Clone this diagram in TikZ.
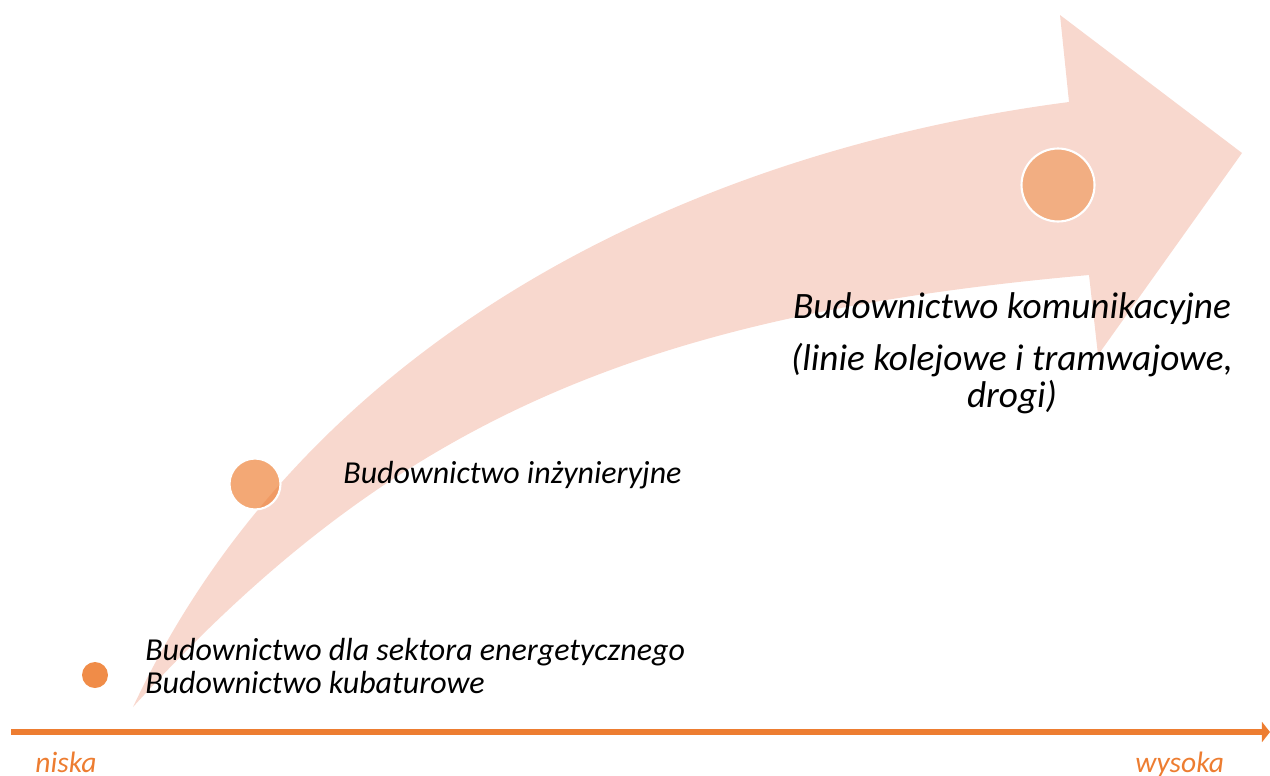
\documentclass[tikz,border=0pt]{standalone}
\usepackage{fontspec}
\setmainfont{Carlito}
\usetikzlibrary{arrows.meta,positioning}
\definecolor{arrowpink}{RGB}{248,216,206}
\definecolor{axisorange}{RGB}{237,125,49}
\definecolor{dotlow}{RGB}{240,140,72}
\definecolor{dothigh}{RGB}{242,174,130}
\begin{document}
\begin{tikzpicture}[x=0.02cm,y=-0.02cm,
  dot/.style={circle,inner sep=0pt,minimum size=#1},
  ring/.style={draw=white,line width=1.2pt},
  lbl/.style={anchor=base west,inner sep=0pt,font=\fontsize{18.2}{21}\selectfont\itshape},
  biglbl/.style={anchor=base,inner sep=0pt,font=\fontsize{21.2}{25}\selectfont\itshape},
  axislbl/.style={anchor=base west,inner sep=0pt,text=axisorange,font=\fontsize{16.8}{20}\selectfont\itshape}]
\useasboundingbox (0,0) rectangle (1270,775);
% curved arrow
\fill[arrowpink] (133,707) coordinate(tail) .. controls (310,330) and (700,150) .. (1069,102) -- (1060,15) -- (1242,153) -- (1098,355) -- (1089,275) .. controls (639,315) and (393,421) .. (tail) -- cycle;
% dots
\node[dot=0.52cm,fill=dotlow] (low) at (95,675) {};
\node[dot=1.02cm,fill=axisorange,fill opacity=0.67,ring] (mid) at (255,484) {};
\node[dot=1.46cm,fill=dothigh,ring] (high) at (1058,185) {};
% labels
\node[lbl] (energ) at (145,660) {Budownictwo dla sektora energetycznego};
\node[lbl,below=18.8pt of energ.base west,anchor=base west] (kubat) {Budownictwo kubaturowe};
\node[lbl] (inz) at (343,483) {Budownictwo inżynieryjne};
\node[biglbl] (komun) at (1012,318) {Budownictwo komunikacyjne};
\node[biglbl,below=29.6pt of komun.base,anchor=base] (linie) {(linie kolejowe i tramwajowe,};
\node[biglbl,below=21.6pt of linie.base,anchor=base] (drogi) {drogi)};
% axis
\coordinate (ax0) at (11,732);
\coordinate (ax1) at (1270,732);
\draw[axisorange,line width=3.4pt,-{Triangle[length=4.6pt,width=11.4pt]}] (ax0) -- (ax1);
\node[axislbl] (niska) at (35,772) {niska};
\node[axislbl] (wysoka) at (1135,772) {wysoka};
\end{tikzpicture}
\end{document}
